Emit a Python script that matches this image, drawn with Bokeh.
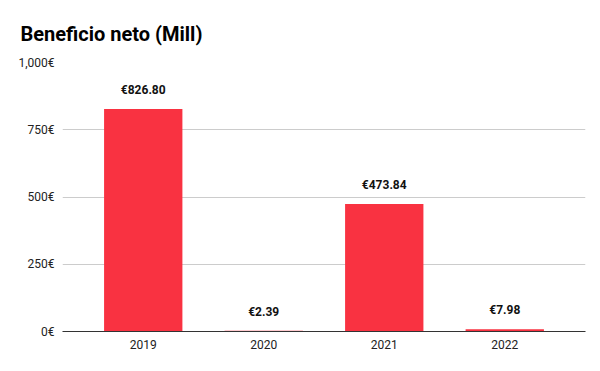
from bokeh.plotting import figure
from bokeh.models import ColumnDataSource, LabelSet, FixedTicker, CustomJSTickFormatter, Range1d, FactorRange
from bokeh.core.properties import value
from bokeh.embed import file_html
from bokeh.resources import INLINE

years = ["2019", "2020", "2021", "2022"]
profits = [826.80, 2.39, 473.84, 7.98]
labels = ["€826.80", "€2.39", "€473.84", "€7.98"]
y_ticks = [0, 250, 500, 750, 1000]

src = ColumnDataSource(data=dict(year=years, value=profits, label=labels))

p = figure(width=600, height=371, output_backend="svg", toolbar_location=None,
           x_range=FactorRange(*years, range_padding=0.17, range_padding_units="absolute"),
           y_range=Range1d(0, 1000),
           min_border_left=62, min_border_right=15, min_border_top=62, min_border_bottom=40)
p.title.text = "Beneficio neto (Mill)"
p.title.text_font = "Roboto"
p.title.text_font_size = "20px"
p.title.text_font_style = "bold"
p.title.text_color = "#000000"
p.title.offset = -42
p.title.standoff = 33

p.vbar(x="year", top="value", width=0.65, source=src, color="#F93241", line_color=None)

p.add_layout(LabelSet(x="year", y="value", text="label", source=src, y_offset=12,
                      text_align="center", text_baseline="bottom", text_font=value("Roboto"),
                      text_font_size="12px", text_font_style="bold", text_color="#111111"))

p.outline_line_color = None
p.xgrid.grid_line_color = None
p.ygrid.grid_line_color = "#cccccc"
p.ygrid.grid_line_width = 1

p.yaxis.ticker = FixedTicker(ticks=y_ticks)
p.yaxis.formatter = CustomJSTickFormatter(code="return tick.toLocaleString('en-US') + '€';")
p.yaxis.axis_line_color = None
p.yaxis.major_tick_line_color = None
p.yaxis.minor_tick_line_color = None
p.yaxis.major_label_standoff = 2
p.yaxis.major_label_text_font = "Roboto"
p.yaxis.major_label_text_font_size = "12px"
p.yaxis.major_label_text_color = "#222222"

p.xaxis.axis_line_color = "#333333"
p.xaxis.major_tick_line_color = None
p.xaxis.minor_tick_line_color = None
p.xaxis.major_label_standoff = 2
p.xaxis.major_label_text_font = "Roboto"
p.xaxis.major_label_text_font_size = "12px"
p.xaxis.major_label_text_color = "#222222"

open("out.html", "w").write(file_html(p, INLINE))
